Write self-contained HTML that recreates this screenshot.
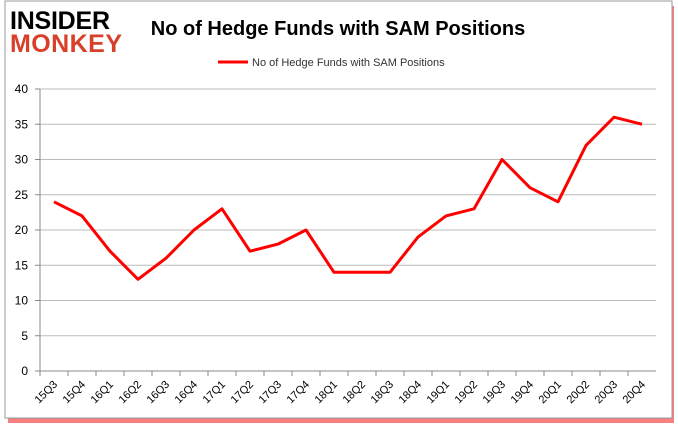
<!DOCTYPE html>
<html><head><style>
body{margin:0;background:#fff;font-family:"Liberation Sans",sans-serif}
</style></head><body>
<svg width="678" height="431" xmlns="http://www.w3.org/2000/svg">
<rect x="8" y="6" width="666" height="417" fill="#e00" opacity="0.5"/>
<rect x="5" y="1" width="667" height="417" fill="#fff" stroke="#999"/>
<text x="10" y="29" font-size="25" font-weight="bold" fill="#000" font-family="Liberation Sans,sans-serif" textLength="100">INSIDER</text>
<text x="10" y="52" font-size="25" font-weight="bold" fill="#d8402a" textLength="112">MONKEY</text>
<text x="338" y="35" font-size="20" font-weight="bold" text-anchor="middle" fill="#000">No of Hedge Funds with SAM Positions</text>
<line x1="218" y1="62" x2="248" y2="62" stroke="#f00" stroke-width="3"/>
<text x="252" y="66" font-size="11" fill="#333">No of Hedge Funds with SAM Positions</text>
<g id="grid"></g><g id="axes"></g><g id="series"></g>
</svg>
<script>
const categories=["15Q3","15Q4","16Q1","16Q2","16Q3","16Q4","17Q1","17Q2","17Q3","17Q4","18Q1","18Q2","18Q3","18Q4","19Q1","19Q2","19Q3","19Q4","20Q1","20Q2","20Q3","20Q4"];
const values=[24,22,17,13,16,20,23,17,18,20,14,14,14,19,22,23,30,26,24,32,36,35];
const yTicks=[0,5,10,15,20,25,30,35,40];
const NS="http://www.w3.org/2000/svg";
const x0=40,band=28,yb=371,yt=89,ymax=40;
const xs=i=>x0+band*(i+0.5), ys=v=>yb-(yb-yt)*v/ymax;
function mk(t,a,p){const e=document.createElementNS(NS,t);for(const k in a)e.setAttribute(k,a[k]);document.getElementById(p).appendChild(e);return e;}
yTicks.forEach(v=>{
 const g=mk('line',{x1:x0,x2:x0+band*categories.length,y1:ys(v),y2:ys(v),stroke:v?'#bbb':'#888'},'grid');
 
 
 const tk=mk('line',{x1:x0-5,x2:x0,y1:ys(v),y2:ys(v),stroke:'#888'},'axes');
 
 
 const t=mk('text',{x:x0-12,y:ys(v)+4,'font-size':12,'text-anchor':'end',fill:'#000'},'axes');t.textContent=v;
 
 
});
const ya=mk('line',{x1:x0,x2:x0,y1:yt,y2:yb,stroke:'#888'},'axes');


categories.forEach((c,i)=>{
 const tk=mk('line',{x1:x0+band*i,x2:x0+band*i,y1:yb,y2:yb+5,stroke:'#888'},'axes');
 
 
 const x=xs(i)+4,y=yb+14;
 const t=mk('text',{x:x,y:y,'font-size':11,'text-anchor':'end',transform:`rotate(-45 ${x} ${y})`,fill:'#000'},'axes');t.textContent=c;
 
 
});
const p=mk('polyline',{points:values.map((v,i)=>xs(i)+','+ys(v)).join(' '),fill:'none',stroke:'#f00','stroke-width':3,'stroke-linejoin':'round'},'series');


</script>
</body></html>
